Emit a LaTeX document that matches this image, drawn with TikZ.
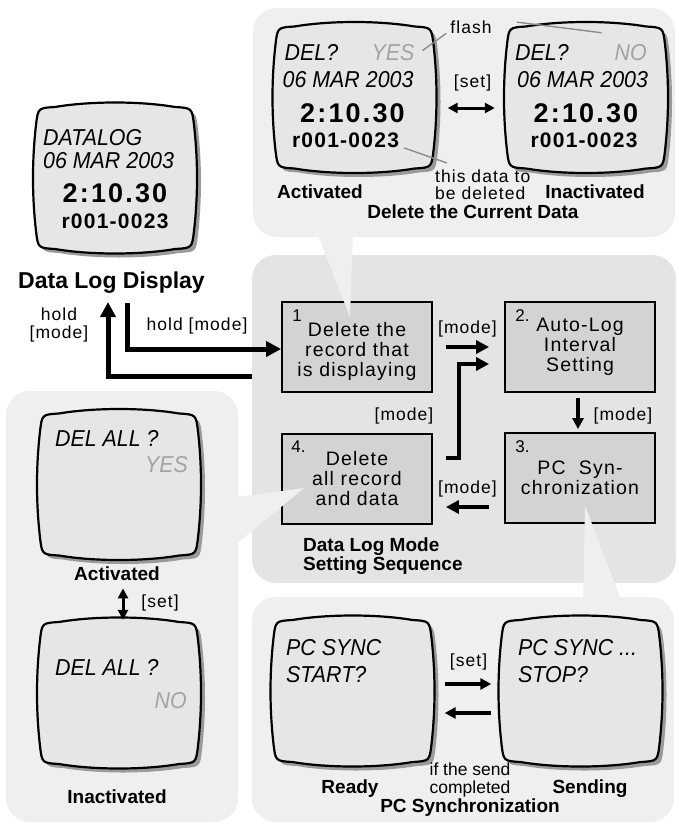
\documentclass[tikz,border=0pt]{standalone}
\usepackage{fontspec}
\setmainfont{Liberation Sans}
\newfontfamily\lcdface[FakeStretch=0.93]{Liberation Sans}
\newfontfamily\wideface[LetterSpace=6]{Liberation Sans}
\newfontfamily\digface[LetterSpace=8]{Liberation Sans}
\usetikzlibrary{arrows.meta, positioning, calc}

\definecolor{panelgray}{HTML}{EFEFEF}
\definecolor{seqgray}{HTML}{E4E4E4}
\definecolor{boxgray}{HTML}{D3D3D3}
\definecolor{scrfill}{HTML}{E6E6E6}
\definecolor{scrshade}{HTML}{9A9A9A}
\definecolor{dimtext}{HTML}{A3A3A3}
\definecolor{leadgray}{HTML}{8C8C8C}

\tikzset{
  panel/.style    ={fill=panelgray, rounded corners=24pt, inner sep=0pt},
  scr/.style      ={minimum width=158pt, minimum height=142pt, inner sep=0pt},
  stepbox/.style  ={draw=black, line width=1.8pt, fill=boxgray, align=center,
                    minimum width=150pt, minimum height=90pt, inner sep=0pt,
                    font=\wideface\fontsize{19.5}{20}\selectfont},
  stepnum/.style  ={anchor=base west, inner sep=0pt, font=\fontsize{17}{17}\selectfont},
  lcd/.style      ={anchor=base west, inner sep=0pt, font=\lcdface\itshape\fontsize{23}{27}\selectfont},
  bigdig/.style   ={anchor=base, inner sep=0pt, font=\digface\bfseries\fontsize{27}{27}\selectfont},
  recnum/.style   ={anchor=base, inner sep=0pt, font=\wideface\bfseries\fontsize{21}{21}\selectfont},
  ttl/.style      ={anchor=base, inner sep=1pt, font=\bfseries\fontsize{19}{17}\selectfont},
  lbl/.style      ={anchor=base, inner sep=1pt, font=\wideface\fontsize{17.5}{18}\selectfont},
  flow/.style     ={line width=4.5pt, -{Triangle[length=13pt, width=13pt]}},
  flowbig/.style  ={line width=5pt, -{Triangle[length=15pt, width=15pt]}},
  flowthin/.style ={line width=3.5pt, -{Triangle[length=11pt, width=11pt]}},
  flowboth/.style ={line width=3pt, {Triangle[length=10pt, width=10pt]}-{Triangle[length=10pt, width=10pt]}},
  lead/.style     ={draw=leadgray, line width=1.4pt},
}

% outline of one display, centred on (0,0)
\def\scrpath{(-60,-71) .. controls (-25,-77) and (25,-77) .. (60,-71)
  .. controls (77,-70) .. (79,-53) .. controls (83,-18) and (83,18) .. (79,53)
  .. controls (77,70) .. (60,71) .. controls (25,77) and (-25,77) .. (-60,71)
  .. controls (-77,70) .. (-79,53) .. controls (-83,18) and (-83,-18) .. (-79,-53)
  .. controls (-77,-70) .. (-60,-71) -- cycle}
\newcommand{\screenframe}[1]{%
  \fill[scrshade, shift={($(#1.center)+(4,4)$)}] \scrpath;
  \filldraw[fill=scrfill, draw=black, line width=2.2pt, shift={(#1.center)}] \scrpath;}

\begin{document}
\begin{tikzpicture}[x=1pt, y=-1pt]
  \fill[white] (0,0) rectangle (678,827);
  \useasboundingbox (0,0) rectangle (678,827);

  % panels
  \node[panel, minimum width=422pt, minimum height=229pt] (toppanel)  at (464,122.5) {};
  \node[panel, minimum width=424pt, minimum height=328pt, fill=seqgray] (midpanel) at (464,419) {};
  \node[panel, minimum width=232pt, minimum height=431pt] (leftpanel) at (122,606.5) {};
  \node[panel, minimum width=422pt, minimum height=225pt] (pcpanel)   at (463,709.5) {};

  % displays
  \node[scr] (dlscr)    at (115,178)   {};
  \node[scr] (actscr)   at (354.5,97.5) {};
  \node[scr] (inactscr) at (586,97.5)  {};
  \node[scr] (allyes)   at (119,484.5) {};
  \node[scr] (allno)    at (119,693)   {};
  \node[scr] (readyscr) at (352.5,691) {};
  \node[scr] (sendscr)  at (580.5,691) {};
  \foreach \s in {dlscr,actscr,inactscr,allyes,allno,readyscr,sendscr}
    {\screenframe{\s}}

  \node[lcd]    (dl1) at ($(dlscr.center)+(-72,-33)$) {DATALOG};
  \node[lcd]    (dl2) at ($(dlscr.center)+(-72,-10)$) {06 MAR 2003};
  \node[bigdig] (dl3) at ($(dlscr.center)+(0,24)$)    {2:10.30};
  \node[recnum] (dl4) at ($(dlscr.center)+(0,50)$)    {r001-0023};

  \node[lcd]    (act1)   at ($(actscr.center)+(-70,-37)$) {DEL?};
  \node[lcd, anchor=base east, text=dimtext] (actyes) at ($(actscr.center)+(60,-37)$) {YES};
  \node[lcd]    (act2)   at ($(actscr.center)+(-72,-10)$) {06 MAR 2003};
  \node[bigdig] (act3)   at ($(actscr.center)+(-2,25)$)   {2:10.30};
  \node[recnum] (act4)   at ($(actscr.center)+(-9,50)$)   {r001-0023};

  \node[lcd]    (inact1) at ($(inactscr.center)+(-71,-37)$) {DEL?};
  \node[lcd, anchor=base east, text=dimtext] (inactno) at ($(inactscr.center)+(61,-37)$) {NO};
  \node[lcd]    (inact2) at ($(inactscr.center)+(-69,-10)$) {06 MAR 2003};
  \node[bigdig] (inact3) at ($(inactscr.center)+(0,25)$)    {2:10.30};
  \node[recnum] (inact4) at ($(inactscr.center)+(-2,50)$)   {r001-0023};

  \node[lcd] (ally1) at ($(allyes.center)+(-64,-38)$) {DEL ALL ?};
  \node[lcd, anchor=base east, text=dimtext] (ally2) at ($(allyes.center)+(69,-12)$) {YES};
  \node[lcd] (alln1) at ($(allno.center)+(-64,-18)$) {DEL ALL ?};
  \node[lcd, anchor=base east, text=dimtext] (alln2) at ($(allno.center)+(68,15)$) {NO};

  \node[lcd] (rdy1) at ($(readyscr.center)+(-66.5,-36)$) {PC SYNC};
  \node[lcd] (rdy2) at ($(readyscr.center)+(-66.5,-9)$)  {START?};
  \node[lcd] (snd1) at ($(sendscr.center)+(-62.5,-36)$)  {PC SYNC ...};
  \node[lcd] (snd2) at ($(sendscr.center)+(-62.5,-9)$)   {STOP?};

  % mode sequence
  \node[stepbox] (box1) at (357,347) {\rule{0pt}{24pt}Delete the\\record that\\is displaying};
  \node[stepbox] (box2) at (580,347) {Auto-Log\\Interval\\Setting};
  \node[stepbox] (box3) at (580,478) {PC\ \ Syn-\\chronization};
  \node[stepbox] (box4) at (357,479) {Delete\\all record\\and data};
  \node[stepnum] (n1) at ($(box1.north west)+(11,20)$) {1};
  \node[stepnum] (n2) at ($(box2.north west)+(11,20)$) {2.};
  \node[stepnum] (n3) at ($(box3.north west)+(11,20)$) {3.};
  \node[stepnum] (n4) at ($(box4.north west)+(10,19)$) {4.};

  % call-outs
  \fill[panelgray] (316,230) -- (353,230) -- ($(box1.north)+(-7,16)$) -- cycle;
  \fill[panelgray] (230,498) -- (230,549) -- ($(box4.west)+(23,9)$) -- cycle;
  \fill[panelgray] ($(box3.south)+(5,-18)$) -- (583,605) -- (623,605) -- cycle;

  \draw[flow] ([xshift=13pt]box1.east) -- node[lbl, above=7pt]{[mode]} ([xshift=-15pt]box2.west);
  \draw[flowthin] ([shift={(-2,5)}]box2.south) -- ([shift={(-2,-3)}]box3.north);
  \draw[flow] ([shift={(-15,29)}]box3.west) -- node[lbl, above=7pt]{[mode]} ([shift={(13,28)}]box4.east);
  \draw[flow] ([shift={(13,-21)}]box4.east) -- ++(13,0) |- ([shift={(-15,17)}]box2.west);
  \node[lbl] (m2) at (404,420) {[mode]};
  \node[lbl] (m3) at (623,420) {[mode]};
  \node[ttl, align=left, anchor=north west, inner sep=0pt] (seqtitle) at (303,538)
    {Data Log Mode\\Setting Sequence};

  % data log display
  \node[ttl, font=\bfseries\fontsize{23}{23}\selectfont] (dltitle) at (111.5,288) {Data Log Display};
  \coordinate (holdin)  at (127,303);
  \coordinate (holdtip) at (108,302);
  \draw[flowbig] (holdin) |- ([yshift=-2pt]box1.west);
  \draw[flowbig] ([yshift=43pt]midpanel.west) -| (holdtip);
  \node[lbl] (hold1) at (197,330) {hold [mode]};
  \node[lbl, align=center, anchor=north] (hold2) at (59,307) {hold\\{}[mode]};

  % delete the current data
  \draw[flowboth] ([shift={(14,10.5)}]actscr.east) -- ([shift={(-12,10.5)}]inactscr.west);
  \node[lbl] (set1)  at (472.5,87) {[set]};
  \node[lbl] (flash) at (471,33) {flash};
  \node[lbl, font=\wideface\fontsize{17.5}{17}\selectfont, align=left, anchor=north west, inner sep=0pt]
    (deltxt) at (435,170) {this data to\\be deleted};
  \draw[lead] ([shift={(8,-2)}]actyes.east) -- ([shift={(-3,-1)}]flash.south west);
  \draw[lead] ([shift={(24,3)}]flash.north east) -- ([shift={(-13,-11.5)}]inactno.north west);
  \draw[lead] ([shift={(5,0)}]act4.south east) -- ([shift={(12,-7)}]deltxt.north west);
  \node[ttl] (acttl)   at (320,198) {Activated};
  \node[ttl] (inacttl) at (595,198) {Inactivated};
  \node[ttl, inner sep=0pt] (deltl) at (473,218) {Delete the Current Data};

  % delete all
  \node[ttl] (actl)   at (117,580) {Activated};
  \node[ttl] (inactl) at (117,803) {Inactivated};
  \draw[flowboth] ([shift={(6,7)}]actl.south) -- ([shift={(4,-2)}]allno.north);
  \node[lbl] (set2) at (160,607) {[set]};

  % pc synchronization
  \draw[flowthin] ([shift={(13,-7)}]readyscr.east) -- ([shift={(-10,-7)}]sendscr.west);
  \draw[flowthin] ([shift={(-10,22)}]sendscr.west) -- ([shift={(13,22)}]readyscr.east);
  \node[lbl] (set3) at (468.5,666) {[set]};
  \node[lbl, font=\fontsize{17.5}{18}\selectfont, align=center, anchor=north] (sendtxt) at (470,762) {if the send\\completed};
  \node[ttl] (rdytl) at (350,793) {Ready};
  \node[ttl] (sndtl) at (590,793) {Sending};
  \node[ttl] (pctl)  at (470,812) {PC Synchronization};
\end{tikzpicture}
\end{document}
